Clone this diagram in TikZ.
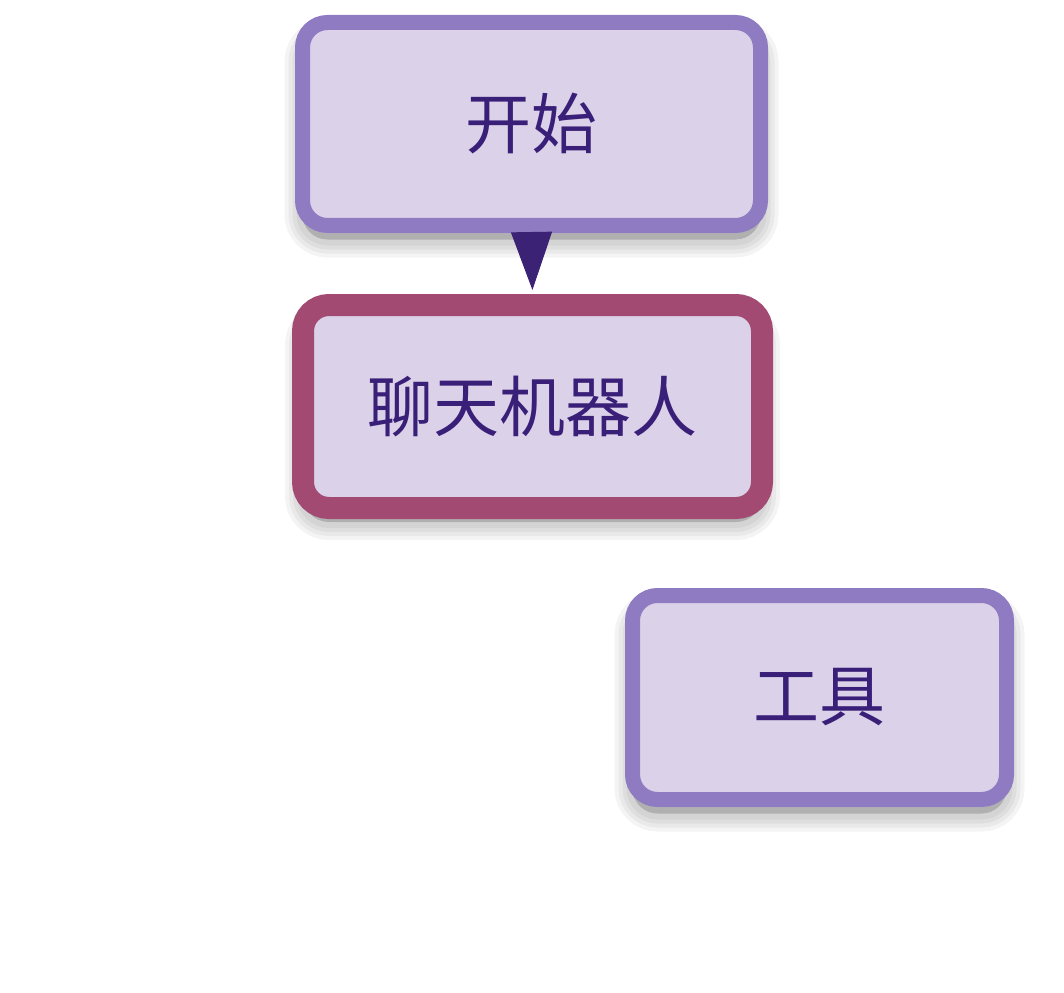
\documentclass[tikz,border=0pt]{standalone}
\usepackage{fontspec}
\newfontfamily\cjk{Noto Sans CJK SC}
\usetikzlibrary{arrows.meta,shadows}
\definecolor{boxfill}{HTML}{DBD2EA}
\definecolor{lavborder}{HTML}{8E7BC2}
\definecolor{roseborder}{HTML}{A34A72}
\definecolor{textcol}{HTML}{3A1F78}
\definecolor{arrowcol}{HTML}{3B2275}
\tikzset{
  shadowlayer/.style={general shadow={shadow yshift=-14pt, draw=black, fill=black,
     draw opacity=0.045, fill opacity=0.045, line width=#1}},
  softshadow/.style={shadowlayer=12pt, shadowlayer=20pt, shadowlayer=28pt, shadowlayer=36pt},
  box/.style={softshadow, draw=lavborder, fill=boxfill, line width=15pt, rounded corners=25pt,
    text=textcol, font=\cjk\fontsize{66}{70}\selectfont, inner sep=0pt},
  activebox/.style={box, draw=roseborder, line width=22pt, rounded corners=26pt},
  flow/.style={draw=arrowcol, fill=arrowcol, line width=1pt, -{Triangle[length=58pt,width=41pt]}}
}
\begin{document}
\begin{tikzpicture}[x=1pt,y=-1pt]
\fill[white] (0,0) rectangle (1064,992);
\useasboundingbox (0,0) rectangle (1064,992);
\node[box, minimum width=458pt, minimum height=203pt] (start) at (531.5,124) {开始};
\node[activebox, minimum width=459pt, minimum height=203pt] (bot) at (532.5,406.5) {聊天机器人};
\node[box, minimum width=374pt, minimum height=204pt] (tool) at (819.5,697.5) {工具};
\draw[flow, shorten >=4pt] (start.south) -- (bot.north);
\end{tikzpicture}
\end{document}
